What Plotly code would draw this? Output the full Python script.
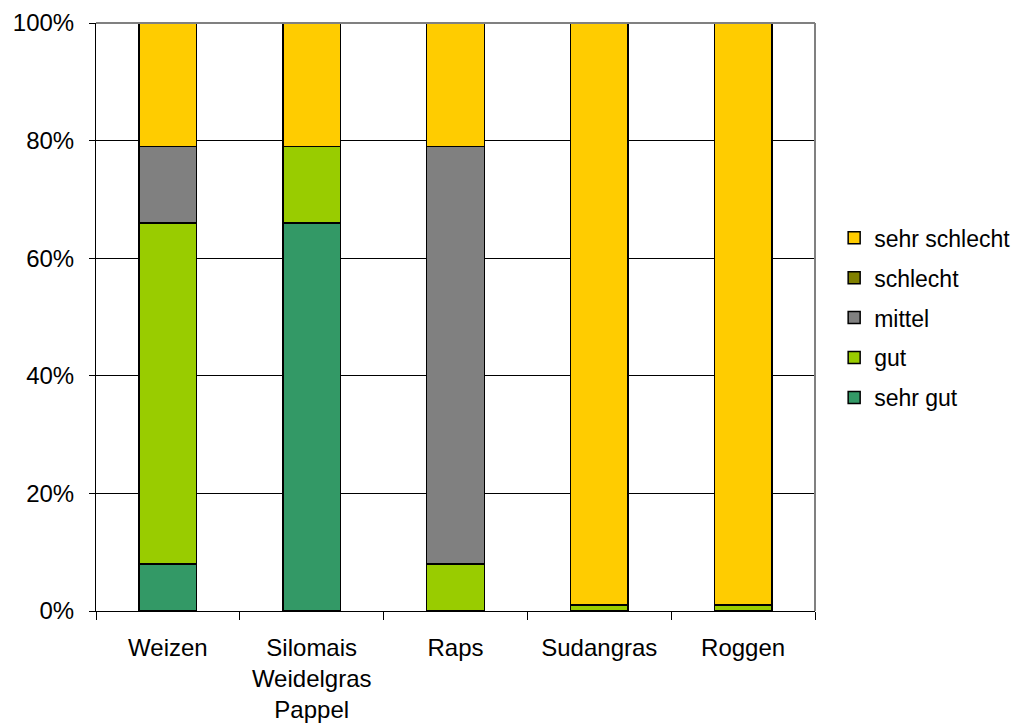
import plotly.graph_objects as go

categories = ["Weizen", "Silomais<br>Weidelgras<br>Pappel", "Raps", "Sudangras", "Roggen"]
sehr_gut = [8, 66, 0, 0, 0]
gut = [58, 13, 8, 1, 1]
mittel = [13, 0, 71, 0, 0]
schlecht = [0, 0, 0, 0, 0]
sehr_schlecht = [21, 21, 21, 99, 99]

series_names = ["sehr gut", "gut", "mittel", "schlecht", "sehr schlecht"]
series_values = [sehr_gut, gut, mittel, schlecht, sehr_schlecht]
series_colors = ["#339966", "#99CC00", "#808080", "#808000", "#FFCC00"]

FONT = "Liberation Sans, Arial, sans-serif"

fig = go.Figure()
n = len(series_names)
for i, (name, vals, col) in enumerate(zip(series_names, series_values, series_colors)):
    fig.add_trace(go.Bar(
        x=categories,
        y=[v if v != 0 else None for v in vals],
        name=name,
        legendgroup=name,
        legendrank=n - i,
        marker=dict(color=col, line=dict(color="black", width=1.5)),
        width=0.4,
        hoverinfo="skip",
    ))

fig.update_layout(
    barmode="stack",
    width=1021, height=724,
    margin=dict(l=96, r=206, t=23, b=113, autoexpand=False),
    plot_bgcolor="white",
    paper_bgcolor="white",
    font=dict(family=FONT, size=23, color="black"),
    showlegend=True,
    legend=dict(
        xref="container", yref="container",
        x=0.817, xanchor="left", y=0.561, yanchor="middle",
        traceorder="grouped", tracegroupgap=7,
        font=dict(size=23), itemwidth=30,
    ),
    xaxis=dict(
        showline=True, linecolor="black", linewidth=1,
        ticks="outside", ticklen=8, tickcolor="black", tickson="boundaries",
        showgrid=False, tickfont=dict(size=24), ticklabelstandoff=15,
        automargin=False,
    ),
    yaxis=dict(
        range=[0, 100], dtick=20, ticksuffix="%",
        showline=True, linecolor="black", linewidth=1,
        ticks="outside", ticklen=6, tickcolor="black",
        showgrid=True, gridcolor="#000000", gridwidth=1,
        zeroline=False, tickfont=dict(size=24), ticklabelstandoff=10,
        automargin=False,
    ),
)

# gray border on top and right of the plot area
fig.add_shape(type="line", xref="paper", yref="paper", x0=0, x1=1, y0=1, y1=1,
              line=dict(color="#808080", width=2))
fig.add_shape(type="line", xref="paper", yref="paper", x0=1, x1=1, y0=0, y1=1,
              line=dict(color="#808080", width=2))

fig.write_html("out.html")
